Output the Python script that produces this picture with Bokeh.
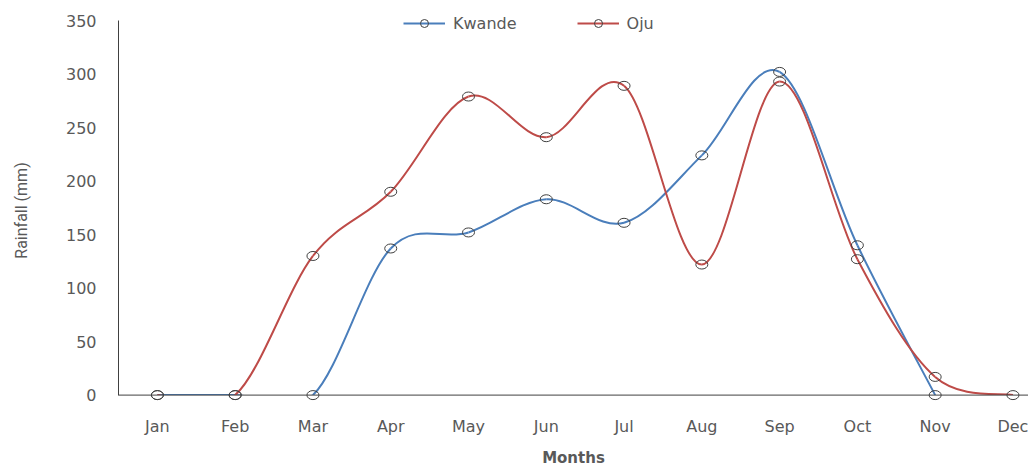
import numpy as np
from bokeh.plotting import figure
from bokeh.models import (Range1d, FixedTicker, Legend, LegendItem, BoxAnnotation,
                          ColumnDataSource, Span)
from bokeh.embed import file_html
from bokeh.resources import INLINE

months = ["Jan", "Feb", "Mar", "Apr", "May", "Jun", "Jul", "Aug", "Sep", "Oct", "Nov", "Dec"]
kwande = [0, 0, 0, 137, 152, 183, 161, 224, 302, 140, 0]          # Jan..Nov
oju = [0, 0, 130, 190, 279, 241, 289, 122, 293, 127, 17, 0]       # Jan..Dec
y_ticks = [0, 50, 100, 150, 200, 250, 300, 350]

BLUE = "#4A7EBB"
RED = "#BE4B48"
TXT = "#595959"
FONT = "DejaVu Sans"
X_END = 11.2


def smooth_segments(vals):
    n = len(vals)
    xs = list(range(n))
    d = dict(x0=[], y0=[], x1=[], y1=[], cx0=[], cy0=[], cx1=[], cy1=[])
    for i in range(n - 1):
        a = max(i - 1, 0)
        b = min(i + 2, n - 1)
        d["x0"].append(xs[i]); d["y0"].append(vals[i])
        d["x1"].append(xs[i + 1]); d["y1"].append(vals[i + 1])
        d["cx0"].append(xs[i] + (xs[i + 1] - xs[a]) / 6)
        d["cy0"].append(vals[i] + (vals[i + 1] - vals[a]) / 6)
        d["cx1"].append(xs[i + 1] - (xs[b] - xs[i]) / 6)
        d["cy1"].append(vals[i + 1] - (vals[b] - vals[i]) / 6)
    return ColumnDataSource(d)


p = figure(width=1028, height=469, output_backend="svg", toolbar_location=None,
           x_range=Range1d(-0.5, X_END), y_range=Range1d(-20, 365),
           min_border_left=118, min_border_right=0, min_border_top=4,
           min_border_bottom=49)
p.outline_line_color = None
p.grid.visible = False
p.background_fill_color = "white"
p.border_fill_color = "white"

# smoothed lines
p.bezier(x0="x0", y0="y0", x1="x1", y1="y1", cx0="cx0", cy0="cy0", cx1="cx1", cy1="cy1",
         source=smooth_segments(kwande), line_color=BLUE, line_width=2, level="image")
p.bezier(x0="x0", y0="y0", x1="x1", y1="y1", cx0="cx0", cy0="cy0", cx1="cx1", cy1="cy1",
         source=smooth_segments(oju), line_color=RED, line_width=2, level="image")

# hide anything dipping below zero (as the original clips at the axis)
p.add_layout(BoxAnnotation(top=0, fill_color="white", fill_alpha=1, line_alpha=0,
                           level="underlay"))

# markers
for vals in (kwande, oju):
    p.ellipse(x=list(range(len(vals))), y=vals, width=12, height=9,
              width_units="screen", height_units="screen",
              fill_color=None, line_color="#404040", line_width=1)

# horizontal axis line at zero
p.add_layout(Span(location=0, dimension="width", line_color="#404040", line_width=1,
                  level="overlay"))

# axes
xa = p.xaxis[0]
xa.ticker = FixedTicker(ticks=list(range(len(months))))
xa.major_label_overrides = {i: m for i, m in enumerate(months)}
xa.axis_line_color = None
xa.axis_label = "Months"
xa.axis_label_text_font = FONT
xa.axis_label_text_font_style = "bold"
xa.axis_label_text_font_size = "15px"
xa.axis_label_text_color = TXT
xa.axis_label_standoff = 10
xa.major_label_standoff = 0

ya = p.yaxis[0]
ya.ticker = FixedTicker(ticks=y_ticks)
ya.bounds = (0, 350)
ya.axis_line_color = "#404040"
ya.axis_label = "Rainfall (mm)"
ya.axis_label_text_font = "Roboto"
ya.axis_label_text_font_style = "normal"
ya.axis_label_text_font_size = "16px"
ya.axis_label_text_color = TXT
ya.axis_label_standoff = 32
ya.major_label_standoff = 22

for ax in (xa, ya):
    ax.axis_line_width = 1
    ax.major_tick_line_color = None
    ax.minor_tick_line_color = None
    ax.major_tick_out = 0
    ax.major_tick_in = 0
    ax.major_label_text_font = FONT
    ax.major_label_text_font_size = "16px"
    ax.major_label_text_color = TXT

# legend
nan = [np.nan]
lk = p.line(x=nan, y=nan, line_color=BLUE, line_width=2)
mk = p.scatter(x=nan, y=nan, marker="circle", size=9, fill_color=None,
               line_color="#404040", line_width=1)
lo = p.line(x=nan, y=nan, line_color=RED, line_width=2)
mo = p.scatter(x=nan, y=nan, marker="circle", size=9, fill_color=None,
               line_color="#404040", line_width=1)
legend = Legend(items=[LegendItem(label="Kwande", renderers=[lk, mk]),
                       LegendItem(label="Oju", renderers=[lo, mo])],
                orientation="horizontal", location=(285, 383),
                glyph_width=42, glyph_height=20, label_standoff=8, spacing=60,
                padding=0, margin=0, border_line_color=None,
                background_fill_alpha=0,
                label_text_font=FONT, label_text_font_size="16px",
                label_text_color=TXT)
p.add_layout(legend)

open("out.html", "w").write(file_html(p, INLINE))
